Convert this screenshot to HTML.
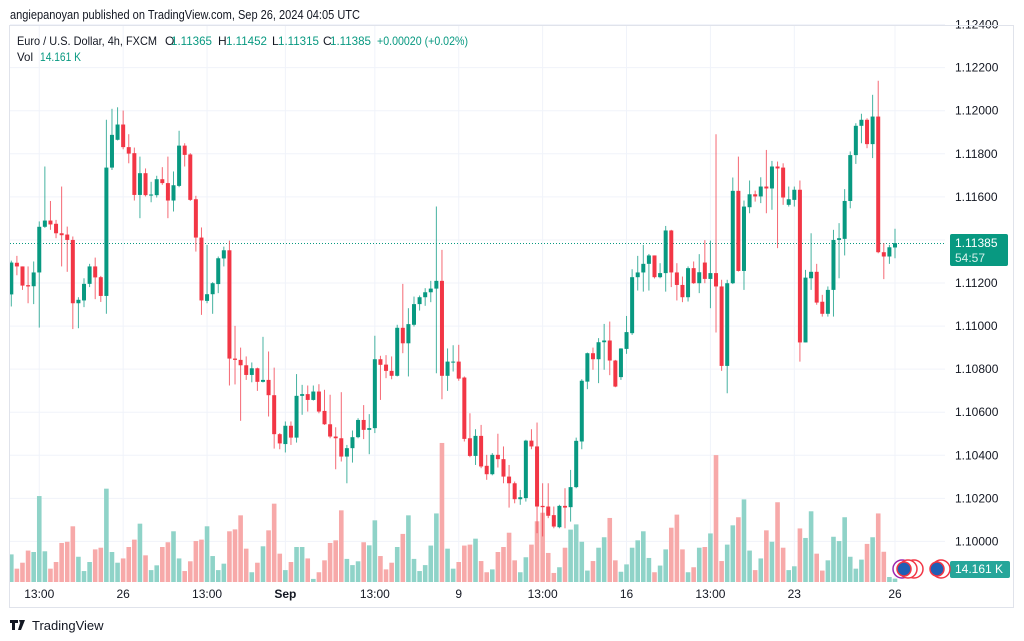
<!DOCTYPE html>
<html><head><meta charset="utf-8"><title>EURUSD 4h</title>
<style>
html,body{margin:0;padding:0;background:#fff;}
svg{display:block;font-family:"Liberation Sans",sans-serif;}
</style></head>
<body>
<svg id="chart" width="1024" height="641" viewBox="0 0 1024 641" xmlns="http://www.w3.org/2000/svg">
  <rect x="0" y="0" width="1024" height="641" fill="#ffffff"/>
  <text x="10" y="19" font-size="13" fill="#131722" textLength="350" lengthAdjust="spacingAndGlyphs">angiepanoyan published on TradingView.com, Sep 26, 2024 04:05 UTC</text>
  <g id="grid"></g>
  <g id="vols"></g>
  <line x1="10" y1="243.5" x2="945" y2="243.5" stroke="#089981" stroke-width="1" stroke-dasharray="1,2"/>
  <g id="candles"></g>
  <g id="yaxis"></g>
  <g id="xaxis"></g>
  <rect x="9.5" y="25.5" width="1004" height="582" fill="none" stroke="#e0e3eb"/>
  <g font-size="12">
    <text x="17" y="45" fill="#131722" textLength="140" lengthAdjust="spacingAndGlyphs">Euro / U.S. Dollar, 4h, FXCM</text>
    <text x="165" y="45" fill="#131722">O</text>
    <text x="171" y="45" fill="#089981" textLength="41" lengthAdjust="spacingAndGlyphs">1.11365</text>
    <text x="218" y="45" fill="#131722">H</text>
    <text x="226" y="45" fill="#089981" textLength="41" lengthAdjust="spacingAndGlyphs">1.11452</text>
    <text x="272" y="45" fill="#131722">L</text>
    <text x="278" y="45" fill="#089981" textLength="41" lengthAdjust="spacingAndGlyphs">1.11315</text>
    <text x="323" y="45" fill="#131722">C</text>
    <text x="330" y="45" fill="#089981" textLength="41" lengthAdjust="spacingAndGlyphs">1.11385</text>
    <text x="377" y="45" fill="#089981" textLength="91" lengthAdjust="spacingAndGlyphs">+0.00020 (+0.02%)</text>
    <text x="17" y="61" fill="#131722" textLength="16" lengthAdjust="spacingAndGlyphs">Vol</text>
    <text x="40" y="61" fill="#089981" textLength="41" lengthAdjust="spacingAndGlyphs">14.161 K</text>
  </g>
  <g>
    <rect x="950" y="234" width="58" height="32" rx="2" fill="#089981"/>
    <text x="955" y="247" font-size="12" fill="#ffffff">1.11385</text>
    <text x="955" y="262" font-size="12" fill="#d5f0eb">54:57</text>
  </g>
  <g>
    <rect x="950" y="561" width="60" height="17" rx="2" fill="#26a69a"/>
    <text x="955" y="573" font-size="12" fill="#ffffff">14.161 K</text>
  </g>
  <g>
    <circle cx="902" cy="569" r="9" fill="#fff" stroke="#9c27b0" stroke-width="1.5"/>
    <circle cx="914" cy="569" r="9" fill="#fff" stroke="#f23645" stroke-width="1.5"/>
    <circle cx="908" cy="569" r="9" fill="#fff" stroke="#f23645" stroke-width="1.5"/>
    <circle cx="904" cy="569" r="7" fill="#1f5fb5" stroke="#f23645" stroke-width="1.5"/>
    <circle cx="941" cy="569" r="9" fill="#fff" stroke="#f23645" stroke-width="1.5"/>
    <circle cx="937" cy="569" r="7" fill="#1f5fb5" stroke="#f23645" stroke-width="1.5"/>
  </g>
  <g>
    <path d="M10 620 h8 v3 h-3 v7 h-3 v-7 h-2 z M19 620 h2 l-1 3 z M21 620 h4 l-4 10 h-3 z" fill="#131722"/>
    <text x="32" y="630" font-size="13" fill="#131722">TradingView</text>
  </g>
</svg>
<script>
// OHLC values in pips above 1.10000 (1 pip = 0.0001)
const BASE = 1.1;
const openP = [114.7,129.4,127.7,119.0,118.5,124.9,146.1,149.0,147.5,143.1,
142.5,140.0,110.6,111.9,119.6,127.7,122.7,114.0,173.6,186.5,
193.6,183.1,180.3,160.9,171.0,160.6,160.8,168.2,166.4,158.3,
165.1,183.8,179.7,158.9,141.1,111.7,114.8,119.5,131.4,135.2,
84.9,84.3,81.8,77.3,80.4,74.1,75.0,67.9,49.8,45.2,
53.7,48.2,67.6,68.4,65.7,69.6,60.6,54.4,48.7,47.9,
39.4,43.3,48.4,56.4,51.8,52.6,84.6,82.1,79.2,76.9,
99.2,92.0,100.6,110.2,113.4,115.7,117.4,121.0,76.9,83.1,
83.5,76.1,47.9,39.7,49.0,35.1,31.2,40.2,38.2,30.1,
27.0,19.6,20.1,46.8,44.1,16.5,16.2,12.2,6.6,16.5,
15.9,25.2,46.4,74.2,87.4,84.6,92.5,93.3,84.0,76.3,
89.4,96.7,122.7,124.9,128.9,132.8,122.7,124.6,144.4,124.9,
119.1,113.4,126.9,119.9,129.5,121.9,124.6,118.4,81.5,119.9,
162.8,125.6,155.2,161.2,160.2,164.8,163.9,174.1,173.6,156.3,
158.6,163.3,92.4,122.2,125.2,111.3,105.7,116.8,140.0,140.5,
158.1,179.4,193.0,195.8,184.5,197.3,134.3,132.3,136.5];
const highP = [130.4,132.6,127.7,127.7,130.0,148.6,174.1,158.1,149.3,164.8,
146.2,141.6,113.4,122.2,128.9,131.8,123.3,195.8,200.9,201.6,
200.1,189.1,182.9,178.7,173.2,167.0,169.8,173.8,178.7,171.8,
190.7,184.9,180.3,160.5,145.8,137.7,120.4,132.3,136.9,139.7,
100.1,90.0,85.9,83.1,80.7,95.0,88.2,80.7,50.3,55.7,
55.7,77.7,72.7,72.4,72.4,73.0,70.4,68.1,53.0,69.3,
44.8,51.5,57.2,63.3,59.1,95.5,86.2,86.5,85.9,100.6,
119.6,108.3,113.7,114.2,117.6,121.0,155.5,135.4,89.6,91.1,
91.3,76.6,59.5,52.1,54.1,40.2,41.0,50.0,44.1,35.5,
27.8,23.9,47.2,52.1,55.2,27.0,27.0,16.2,17.0,24.7,
33.2,48.2,75.3,87.7,90.0,94.4,101.0,102.1,84.3,89.7,
104.7,126.4,132.6,137.7,133.5,132.8,129.2,146.5,144.7,129.2,
123.0,127.7,130.0,133.4,139.9,139.7,189.1,121.5,121.5,169.0,
178.7,158.3,167.6,162.9,169.1,181.8,176.7,176.4,175.6,164.8,
164.8,167.6,126.1,143.1,128.9,114.5,118.4,144.7,147.8,163.6,
181.1,194.2,198.6,196.5,207.4,213.9,138.5,137.7,145.2];
const lowP = [109.1,123.6,116.8,110.6,110.2,99.3,145.6,144.7,140.8,127.7,
125.2,98.6,99.0,108.8,118.1,112.5,111.2,105.7,172.5,186.2,
182.1,175.6,158.3,150.1,160.2,157.5,159.7,165.6,150.1,153.2,
164.5,174.1,158.1,134.6,105.2,110.6,105.7,115.3,127.7,72.4,
72.9,56.0,75.0,73.9,69.9,73.8,58.0,43.1,42.8,41.3,
44.8,45.9,58.8,60.3,65.4,59.5,54.1,47.9,33.5,37.1,
27.0,36.6,47.9,47.5,40.5,50.3,65.7,75.8,75.3,76.6,
87.4,76.6,99.8,107.2,109.4,111.1,78.1,66.0,69.9,78.9,
74.6,46.4,39.1,35.5,34.0,28.6,30.7,34.3,27.0,15.7,
17.7,17.0,18.5,42.8,3.8,2.3,10.8,6.1,6.1,6.1,
9.2,24.7,42.8,70.7,79.7,73.5,79.7,77.2,71.6,75.0,
87.1,95.9,116.5,116.0,116.5,122.1,122.2,116.0,118.1,111.9,
111.1,111.4,119.6,115.3,119.9,108.3,97.0,79.2,68.8,119.5,
125.3,116.8,152.4,157.8,157.1,152.4,154.0,136.2,156.3,155.5,
155.5,83.5,92.4,116.8,109.9,104.4,104.4,104.4,122.2,132.8,
154.7,175.3,184.9,182.6,178.0,133.8,121.8,128.9,131.5];
const closeP = [129.5,127.7,118.8,118.4,124.9,146.1,149.0,147.2,143.1,142.2,
140.0,110.6,112.2,119.6,127.7,122.6,114.0,173.6,188.8,193.6,
183.1,180.1,160.9,171.0,160.8,161.1,168.2,166.4,158.3,165.4,
183.8,179.5,158.6,141.1,111.9,114.8,119.9,131.5,135.2,84.9,
84.3,81.8,77.3,80.4,74.1,75.0,67.9,49.8,45.5,53.7,
48.2,67.6,68.4,65.7,69.6,60.3,54.4,48.7,47.9,39.4,
43.3,48.4,56.4,51.8,52.6,84.6,82.0,79.2,76.9,99.2,
92.0,100.9,110.2,113.4,115.7,117.4,121.0,76.9,83.5,83.5,
75.6,47.6,39.7,49.0,34.8,31.2,40.2,38.2,30.1,27.0,
19.6,20.5,46.8,44.1,16.2,15.9,11.9,6.9,16.5,15.7,
25.2,46.7,74.6,87.4,84.6,92.5,93.3,84.0,71.9,89.6,
97.2,122.7,124.9,128.9,132.8,122.7,124.6,144.4,124.9,119.1,
113.4,126.9,119.9,125.0,121.9,124.6,118.4,81.5,119.9,162.8,
125.6,155.5,161.2,160.2,164.8,163.9,174.1,173.2,159.7,158.9,
163.3,92.4,122.5,125.2,110.9,105.7,116.8,140.0,140.8,158.1,
179.4,193.0,195.8,184.5,197.3,134.3,132.3,136.6,138.5];
// volume in thousands
const volumeK = [116,56,81,132,126,361,129,56,84,164,
169,234,106,46,84,137,144,392,126,81,
99,147,178,245,112,50,70,147,167,213,
99,46,87,172,178,234,109,50,77,213,
221,280,140,41,81,150,217,329,119,50,
84,147,147,99,13,41,91,164,175,301,
97,71,87,167,154,259,109,53,81,147,
202,280,97,46,71,153,288,584,140,56,
84,153,157,182,88,41,53,126,147,207,
91,41,104,157,255,291,122,38,62,144,
220,242,169,48,88,144,188,269,91,43,
74,144,175,213,101,41,69,137,228,283,
137,41,62,144,147,204,533,88,157,238,
272,347,132,50,99,217,169,335,144,50,
66,225,185,297,119,48,91,190,172,272,
106,56,94,160,188,288,127,21,14.161];
const priceTicks = [1.124,1.122,1.12,1.118,1.116,1.114,1.112,1.11,1.108,1.106,1.104,1.102,1.1];
const timeLabels = ["13:00","26","13:00","Sep","13:00","9","13:00","16","13:00","23","26"];
const timeLabelBars = [5,20,35,49,65,80,95,110,125,140,158];

const NS = "http://www.w3.org/2000/svg";
function xOf(i){ return 11.3 + i * 5.593; }
function yOf(price){ return 541.4 - (price - 1.1) * 21533; }
function yP(p){ return yOf(BASE + p / 10000); }
function vH(v){ return v / 4.2; }
const VOL_BASE = 582;
function mk(tag, attrs, parent){
  const e = document.createElementNS(NS, tag);
  for (const k in attrs) e.setAttribute(k, attrs[k]);
  parent.appendChild(e);
  return e;
}
const grid = document.getElementById('grid');
const yaxis = document.getElementById('yaxis');
priceTicks.forEach(function(t){
  const y = yOf(t);
  const gl = mk('line', {x1:10, x2:945, y1:y, y2:y, stroke:'#f0f3fa', 'stroke-width':1}, grid);
  
  
  if (Math.abs(y - 243.5) > 14) {
    const tx = mk('text', {x:955, y:y + 4, 'font-size':12, fill:'#131722'}, yaxis);
    tx.textContent = t.toFixed(5);
    
    
  }
});
const xaxis = document.getElementById('xaxis');
timeLabels.forEach(function(lbl, k){
  const x = xOf(timeLabelBars[k]);
  const gl = mk('line', {x1:x, x2:x, y1:26, y2:582, stroke:'#f0f3fa', 'stroke-width':1}, grid);
  
  
  const tx = mk('text', {x:x, y:598, 'font-size':12, fill:'#131722', 'text-anchor':'middle', 'font-weight': lbl === 'Sep' ? 'bold' : 'normal'}, xaxis);
  tx.textContent = lbl;
  
  
});
const vols = document.getElementById('vols');
const candles = document.getElementById('candles');
for (let i = 0; i < openP.length; i++) {
  const up = closeP[i] >= openP[i];
  const x = xOf(i);
  const h = vH(volumeK[i]);
  const vb = mk('rect', {x:x - 2.3, y:VOL_BASE - h, width:4.6, height:h, fill: up ? '#8fd3c8' : '#f7a9a9'}, vols);
  
  
  const col = up ? '#089981' : '#f23645';
  const g = mk('g', {}, candles);
  
  
  mk('line', {x1:x, x2:x, y1:yP(highP[i]), y2:yP(lowP[i]), stroke:col, 'stroke-width':1, opacity:0.75}, g);
  const top = yP(Math.max(openP[i], closeP[i]));
  const bot = yP(Math.min(openP[i], closeP[i]));
  mk('rect', {x:x - 2, y:top, width:4, height:Math.max(1, bot - top), fill:col}, g);
}
</script>
</body></html>
